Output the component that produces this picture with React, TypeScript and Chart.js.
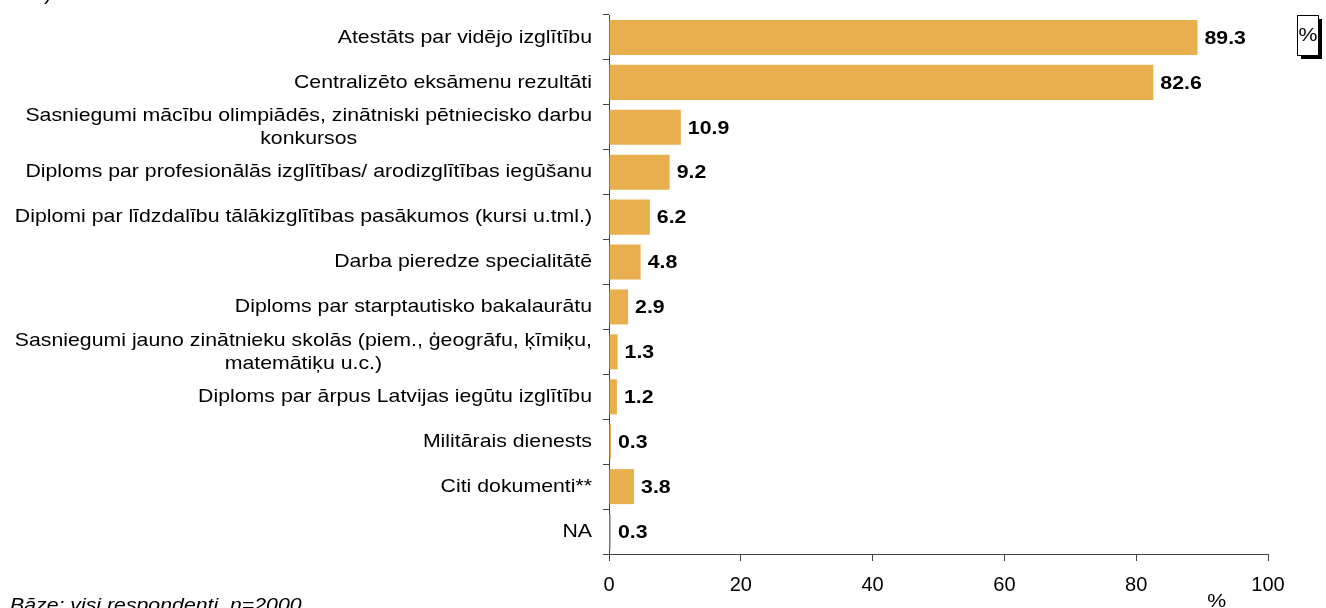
import React, { useEffect, useRef } from "react";
import { Chart, registerables } from "chart.js";

Chart.register(...registerables);

const categories: string[][] = [
  ["Atestāts par vidējo izglītību"],
  ["Centralizēto eksāmenu rezultāti"],
  ["Sasniegumi mācību olimpiādēs, zinātniski pētniecisko darbu", "konkursos"],
  ["Diploms par profesionālās izglītības/ arodizglītības iegūšanu"],
  ["Diplomi par līdzdalību tālākizglītības pasākumos (kursi u.tml.)"],
  ["Darba pieredze specialitātē"],
  ["Diploms par starptautisko bakalaurātu"],
  ["Sasniegumi jauno zinātnieku skolās (piem., ģeogrāfu, ķīmiķu,", "matemātiķu u.c.)"],
  ["Diploms par ārpus Latvijas iegūtu izglītību"],
  ["Militārais dienests"],
  ["Citi dokumenti**"],
  ["NA"],
];

const values: number[] = [89.3, 82.6, 10.9, 9.2, 6.2, 4.8, 2.9, 1.3, 1.2, 0.3, 3.8, 0.3];

const xTicks: number[] = [0, 20, 40, 60, 80, 100];

const legendText = "%";
const axisTitle = "%";
const footnote = "Bāze: visi respondenti, n=2000";

const ORANGE = "#E9AF4F";
const GREY = "#B4B4B4";
const FONT = '"Liberation Sans", Arial, Helvetica, sans-serif';
const SX = 1.12;

function drawText(
  ctx: CanvasRenderingContext2D,
  text: string,
  x: number,
  y: number,
  align: CanvasTextAlign
) {
  ctx.save();
  ctx.translate(x, y);
  ctx.scale(SX, 1);
  ctx.textAlign = align;
  ctx.fillText(text, 0, 0);
  ctx.restore();
}

const textPlugin = {
  id: "customText",
  afterDraw(chart: any) {
    const ctx: CanvasRenderingContext2D = chart.ctx;
    const xs = chart.scales.x;
    const ys = chart.scales.y;
    ctx.save();
    ctx.fillStyle = "#000";

    // category labels
    ctx.font = `19px ${FONT}`;
    ctx.textBaseline = "middle";
    const rightEdge = chart.chartArea.left - 17;
    const lineH = 23;
    categories.forEach((lines, i) => {
      const cy = ys.getPixelForValue(i);
      const widths = lines.map((l) => ctx.measureText(l).width * SX);
      const blockW = Math.max(...widths);
      const cx = rightEdge - blockW / 2;
      lines.forEach((l, j) => {
        const ly = cy + (j - (lines.length - 1) / 2) * lineH;
        if (lines.length === 1) drawText(ctx, l, rightEdge, ly, "right");
        else drawText(ctx, l, cx, ly, "center");
      });
    });

    // value labels
    ctx.font = `bold 19px ${FONT}`;
    const meta = chart.getDatasetMeta(0);
    values.forEach((v, i) => {
      const bar = meta.data[i];
      const x = xs.getPixelForValue(v) + 7;
      drawText(ctx, v.toFixed(1), x, bar.y + 1, "left");
    });

    // legend box
    const bx = 1297, by = 15, bw = 21, bh = 40;
    ctx.fillStyle = "#000";
    ctx.fillRect(bx + 4, by + 4, bw, bh);
    ctx.fillStyle = "#fff";
    ctx.fillRect(bx, by, bw, bh);
    ctx.strokeStyle = "#000";
    ctx.lineWidth = 1;
    ctx.strokeRect(bx + 0.5, by + 0.5, bw, bh);
    ctx.fillStyle = "#000";
    ctx.font = `19px ${FONT}`;
    ctx.textBaseline = "middle";
    drawText(ctx, legendText, bx + bw / 2 + 0.5, by + bh / 2 + 1, "center");

    // axis title
    ctx.textBaseline = "top";
    drawText(ctx, axisTitle, xs.getPixelForValue(92.2), 592, "center");

    // footnote
    ctx.font = `italic 19px ${FONT}`;
    ctx.textBaseline = "alphabetic";
    drawText(ctx, footnote, 10, 611, "left");

    // cut-off title fragment
    ctx.font = `19px ${FONT}`;
    drawText(ctx, ")", 44, 0, "left");

    ctx.restore();
  },
};

export default function App() {
  const ref = useRef<HTMLCanvasElement | null>(null);

  useEffect(() => {
    const canvas = ref.current;
    if (!canvas) return;
    const chart = new Chart(canvas, {
      type: "bar",
      data: {
        labels: categories.map((c) => c.join(" ")),
        datasets: [
          {
            data: values,
            backgroundColor: values.map((_, i) =>
              i === values.length - 1 ? GREY : ORANGE
            ),
            borderWidth: 0,
            barPercentage: 0.78,
            categoryPercentage: 1,
          },
        ],
      },
      options: {
        indexAxis: "y",
        animation: false,
        responsive: false,
        devicePixelRatio: 1,
        layout: { padding: { top: 15, right: 58, bottom: 0, left: 0 } },
        plugins: {
          legend: { display: false },
          tooltip: { enabled: false },
          title: { display: false },
        },
        scales: {
          x: {
            min: 0,
            max: 100,
            afterBuildTicks: (scale: any) => {
              scale.ticks = xTicks.map((v) => ({ value: v }));
            },
            ticks: {
              color: "#000",
              font: { family: FONT, size: 20 },
              padding: 12,
              maxRotation: 0,
            },
            grid: {
              drawOnChartArea: false,
              drawTicks: true,
              tickLength: 7,
              color: "#444",
            },
            border: { color: "#444", width: 1 },
            afterFit: (scale: any) => {
              scale.height = 54;
            },
          },
          y: {
            ticks: { display: false },
            grid: {
              drawOnChartArea: false,
              drawTicks: true,
              tickLength: 6,
              color: "#444",
              offset: true,
            },
            border: { color: "#444", width: 1 },
            afterFit: (scale: any) => {
              scale.width = 609;
            },
          },
        },
      },
      plugins: [textPlugin],
    } as any);
    return () => chart.destroy();
  }, []);

  return (
    <div
      style={{
        position: "fixed",
        left: 0,
        top: 0,
        width: 1326,
        height: 608,
        overflow: "hidden",
      }}
    >
      <canvas
        ref={ref}
        width={1326}
        height={608}
        style={{ display: "block", width: 1326, height: 608 }}
      />
    </div>
  );
}
